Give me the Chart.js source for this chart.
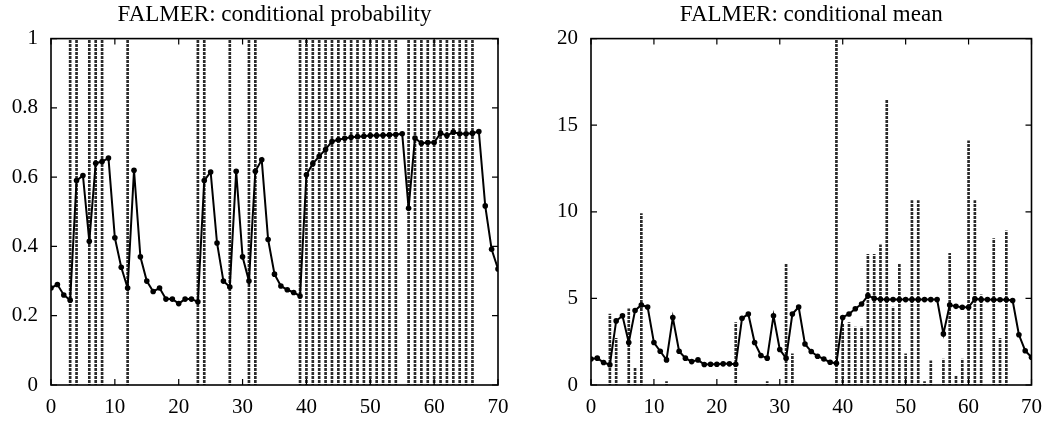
<!DOCTYPE html>
<html>
<head>
<meta charset="utf-8">
<script src="https://cdn.jsdelivr.net/npm/chart.js@4"></script>
<style>
  html, body { margin: 0; padding: 0; background: #fff; overflow: hidden; }
  #wrap { position: relative; width: 1052px; height: 427px; }
  canvas { position: absolute; top: 0; }
  #probChart { left: 0; }
  #meanChart { left: 526px; }
</style>
</head>
<body>
<div id="wrap">
  <canvas id="probChart" width="526" height="427"></canvas>
  <canvas id="meanChart" width="526" height="427"></canvas>
</div>
<script>
// --- Data ---

// conditional probability, one value per time step 0..70
const probValues = [
  0.28, 0.29, 0.26, 0.245, 0.59, 0.605, 0.415, 0.64, 0.645, 0.655,
  0.425, 0.34, 0.28, 0.62, 0.37, 0.30, 0.27, 0.28, 0.248, 0.248,
  0.235, 0.248, 0.248, 0.24, 0.59, 0.615, 0.41, 0.30, 0.283, 0.617,
  0.37, 0.30, 0.617, 0.65, 0.42, 0.32, 0.286, 0.275, 0.267, 0.257,
  0.607, 0.639, 0.66, 0.68, 0.703, 0.708, 0.712, 0.715, 0.717, 0.718,
  0.72, 0.72, 0.721, 0.722, 0.723, 0.725, 0.51, 0.713, 0.698, 0.70,
  0.70, 0.727, 0.72, 0.73, 0.725, 0.725, 0.727, 0.732, 0.517, 0.392,
  0.335
];

// time steps with a rain event (full-height lines in the left panel)
const eventTimes = [
  3, 4, 6, 7, 8, 12, 23, 24, 28, 31, 32,
  39, 40, 41, 42, 43, 44, 45, 46, 47, 48, 49, 50, 51, 52, 53, 54,
  56, 57, 58, 59, 60, 61, 62, 63, 64, 65, 66
];

// conditional mean, one value per time step 0..70
const meanValues = [
  1.5, 1.55, 1.3, 1.17, 3.7, 4.0, 2.45, 4.3, 4.62, 4.5,
  2.45, 1.95, 1.45, 3.9, 1.95, 1.55, 1.35, 1.45, 1.18, 1.2,
  1.2, 1.22, 1.22, 1.2, 3.85, 4.1, 2.45, 1.7, 1.55, 4.0,
  2.05, 1.55, 4.1, 4.5, 2.37, 1.93, 1.66, 1.5, 1.31, 1.25,
  3.9, 4.1, 4.4, 4.68, 5.16, 5.0, 4.95, 4.93, 4.93, 4.93,
  4.93, 4.93, 4.93, 4.93, 4.93, 4.93, 2.95, 4.62, 4.54, 4.49,
  4.49, 4.97, 4.93, 4.93, 4.92, 4.92, 4.92, 4.88, 2.9, 1.98,
  1.6
];

// observed amounts (impulses in the right panel)
const amountTimes = [
  3, 4, 6, 7, 8, 12, 23, 28, 31, 32,
  39, 40, 41, 42, 43, 44, 45, 46, 47, 48, 49, 50, 51, 52, 53, 54,
  56, 57, 58, 59, 60, 61, 62, 64, 65, 66
];
const amountValues = [
  4.1, 2.7, 4.4, 1.0, 9.9, 0.2, 3.6, 0.2, 7.0, 1.8,
  20, 3.5, 3.6, 3.35, 3.35, 7.55, 7.55, 8.1, 16.5, 4.5, 7.0, 1.8, 10.65, 10.65, 0.2, 1.4,
  1.5, 7.6, 0.5, 1.5, 14.1, 10.65, 5.2, 8.45, 2.7, 8.9
];

const probTicks = { min: 0, max: 1, step: 0.2 };
const meanTicks = { min: 0, max: 20, step: 5 };
const timeTicks = { min: 0, max: 70, step: 10 };

// --- Styling helpers ---
const serif = "'Liberation Serif', 'DejaVu Serif', serif";

function dashFill() {
  const c = document.createElement('canvas');
  c.width = 4; c.height = 4;
  const g = c.getContext('2d');
  g.fillStyle = '#2a2a2a';
  g.fillRect(0, 0, 4, 3);
  return g.createPattern(c, 'repeat');
}

// box round the plot area with inward ticks on all four sides
const framePlugin = {
  id: 'frame',
  afterDatasetsDraw(chart) {
    const { ctx, chartArea: a, scales } = chart;
    const t = 6;
    ctx.save();
    ctx.strokeStyle = '#000';
    ctx.lineWidth = 1.6;
    ctx.strokeRect(a.left, a.top, a.right - a.left, a.bottom - a.top);
    ctx.lineWidth = 1.2;
    ctx.beginPath();
    scales.x.ticks.forEach(tk => {
      const px = scales.x.getPixelForValue(tk.value);
      ctx.moveTo(px, a.bottom); ctx.lineTo(px, a.bottom - t);
      ctx.moveTo(px, a.top); ctx.lineTo(px, a.top + t);
    });
    scales.y.ticks.forEach(tk => {
      const py = scales.y.getPixelForValue(tk.value);
      ctx.moveTo(a.left, py); ctx.lineTo(a.left + t, py);
      ctx.moveTo(a.right, py); ctx.lineTo(a.right - t, py);
    });
    ctx.stroke();
    ctx.restore();
  }
};

function makeChart(id, title, values, barX, barY, yRange, yWidth, rightPad) {
  const tickFont = { family: serif, size: 21 };
  return new Chart(document.getElementById(id), {
    type: 'line',
    data: {
      datasets: [
        {
          type: 'bar',
          data: barX.map((x, i) => ({ x: x, y: barY[i] })),
          backgroundColor: dashFill(),
          barThickness: 2,
          grouped: false,
          order: 2
        },
        {
          type: 'line',
          data: values.map((v, i) => ({ x: i, y: v })),
          borderColor: '#000',
          borderWidth: 2,
          pointRadius: 2.8,
          pointBackgroundColor: '#000',
          pointBorderWidth: 0,
          tension: 0,
          order: 1
        }
      ]
    },
    options: {
      responsive: false,
      animation: false,
      layout: { padding: { left: 0, right: rightPad, top: 0, bottom: 0 } },
      plugins: {
        legend: { display: false },
        tooltip: { enabled: false },
        title: {
          display: true,
          text: title,
          fullSize: false,
          color: '#000',
          font: { family: serif, size: 23, weight: 'normal' },
          padding: { top: 1, bottom: 10 }
        }
      },
      scales: {
        x: {
          type: 'linear',
          min: timeTicks.min,
          max: timeTicks.max,
          offset: false,
          grid: { display: false, drawTicks: false },
          border: { display: false },
          ticks: { stepSize: timeTicks.step, color: '#000', font: tickFont, padding: 10, maxRotation: 0 },
          afterFit(s) { s.height = 42; }
        },
        y: {
          min: yRange.min,
          max: yRange.max,
          grid: { display: false, drawTicks: false },
          border: { display: false },
          ticks: {
            stepSize: yRange.step, color: '#000', font: tickFont, padding: 13,
            callback: v => String(Number(v.toFixed(2)))
          },
          afterFit(s) { s.width = yWidth; }
        }
      }
    },
    plugins: [framePlugin]
  });
}

makeChart('probChart', 'FALMER: conditional probability', probValues,
  eventTimes, eventTimes.map(() => 1), probTicks, 51, 28);
makeChart('meanChart', 'FALMER: conditional mean', meanValues,
  amountTimes, amountValues, meanTicks, 65, 14);
</script>
</body>
</html>
